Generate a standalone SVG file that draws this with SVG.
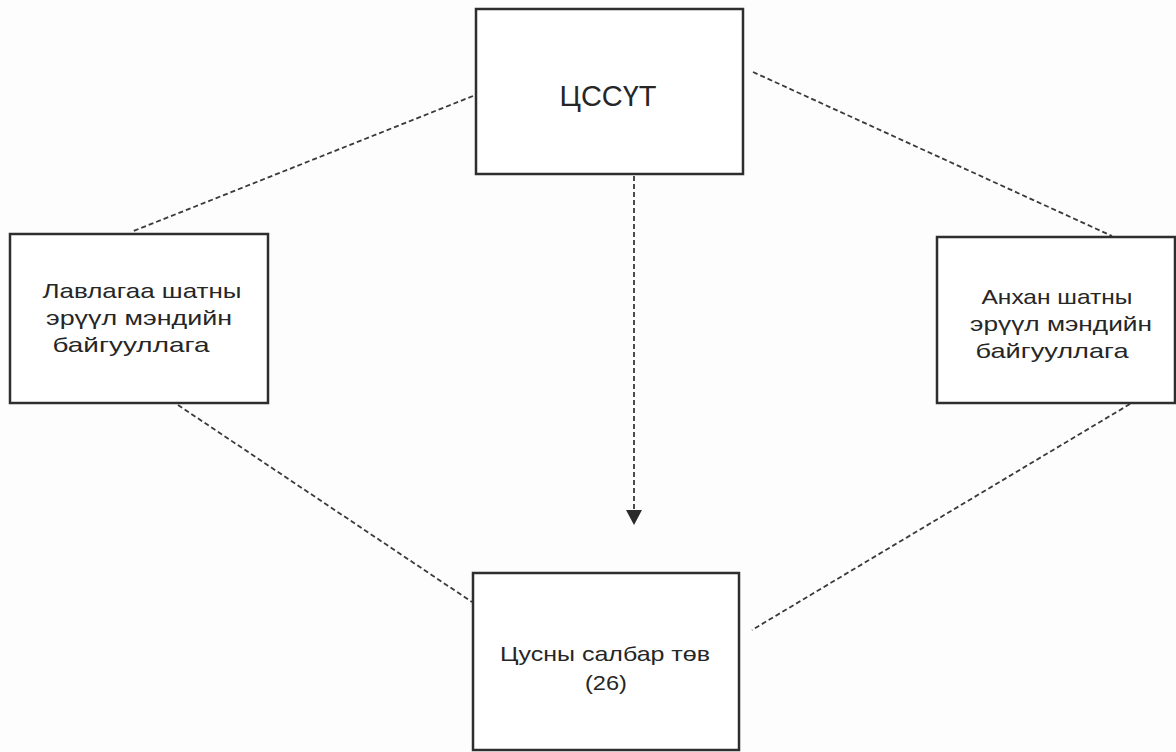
<svg xmlns="http://www.w3.org/2000/svg" width="1176" height="752" viewBox="0 0 1176 752">
<defs>
<style>
.box{fill:#fff;stroke:#2e2e2e;stroke-width:2.5}
.lbl{font-family:"Liberation Sans",Arial,sans-serif;font-size:21px;fill:#262626;text-anchor:middle}
.dash{fill:none;stroke:#3a3a3a;stroke-width:1.8;stroke-dasharray:5 3}
</style>
</defs>
<rect width="1176" height="752" fill="#fdfdfd"/>
<g id="connectors">
<line class="dash" x1="473" y1="96" x2="131" y2="232"/>
<line class="dash" x1="753" y1="72" x2="1112" y2="236"/>
<line class="dash" x1="178" y1="405" x2="472" y2="602"/>
<line class="dash" x1="1130" y1="404" x2="752" y2="630"/>
<line class="dash" x1="634" y1="176" x2="634" y2="510"/>
<path d="M626,510 L642,510 L634,525 Z" fill="#2a2a2a"/>
</g>
<g id="node-top">
<rect class="box" x="476" y="9" width="267" height="165"/>
<text class="lbl" x="608" y="106" style="font-size:30px" textLength="97" lengthAdjust="spacingAndGlyphs">ЦССҮТ</text>
</g>
<g id="node-left">
<rect class="box" x="10" y="234" width="258" height="169"/>
<text class="lbl" x="142" y="298" textLength="199" lengthAdjust="spacingAndGlyphs">Лавлагаа шатны</text>
<text class="lbl" x="139" y="325" textLength="186" lengthAdjust="spacingAndGlyphs">эрүүл мэндийн</text>
<text class="lbl" x="131" y="352" textLength="157" lengthAdjust="spacingAndGlyphs">байгууллага</text>
</g>
<g id="node-right">
<rect class="box" x="937" y="237" width="238" height="166"/>
<text class="lbl" x="1057" y="304" textLength="151" lengthAdjust="spacingAndGlyphs">Анхан шатны</text>
<text class="lbl" x="1061" y="331" textLength="182" lengthAdjust="spacingAndGlyphs">эрүүл мэндийн</text>
<text class="lbl" x="1052" y="358" textLength="153" lengthAdjust="spacingAndGlyphs">байгууллага</text>
</g>
<g id="node-bottom">
<rect class="box" x="473" y="573" width="266" height="177"/>
<text class="lbl" x="605" y="661" textLength="210" lengthAdjust="spacingAndGlyphs">Цусны салбар төв</text>
<text class="lbl" x="606" y="690" textLength="42" lengthAdjust="spacingAndGlyphs">(26)</text>
</g>
</svg>
